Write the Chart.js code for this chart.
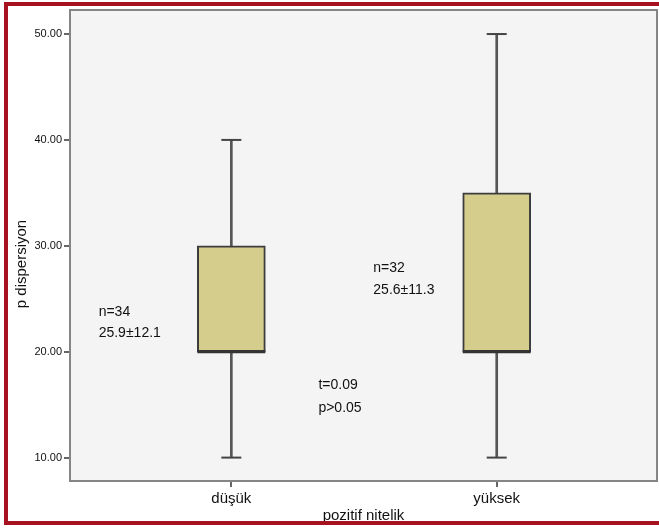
<!DOCTYPE html>
<html>
<head>
<meta charset="utf-8">
<script src="https://cdn.jsdelivr.net/npm/chart.js@4.4.1/dist/chart.umd.min.js"></script>
<style>
  body { margin: 0; background: #fff; }
  #wrap { position: relative; width: 659px; height: 529px; }
  #frame { position: absolute; left: 4px; top: 2px; width: 700px; height: 523px;
           border: 4px solid #a6121f; border-right: none; box-sizing: border-box; pointer-events: none; }
</style>
</head>
<body>
<div id="wrap">
  <canvas id="boxChart" width="659" height="529"></canvas>
  <div id="frame"></div>
</div>
<script>
// Box plot values per group
const categories = ['düşük', 'yüksek'];
const minVals = [10, 10];
const q1Vals = [20, 20];
const medianVals = [20, 20];
const q3Vals = [30, 35];
const maxVals = [40, 50];
const yTicks = [10, 20, 30, 40, 50];

// Text notes in the plot (x in group units, y in data units)
const noteLines = [
  ['n=34', -0.50, 23.75],
  ['25.9±12.1', -0.50, 21.75],
  ['n=32', 0.535, 27.9],
  ['25.6±11.3', 0.535, 25.85],
  ['t=0.09', 0.328, 16.85],
  ['p>0.05', 0.328, 14.7]
];

const FONT = "'Liberation Sans', Arial, sans-serif";

const idx = categories.map((_, i) => i);

const plotBg = {
  id: 'plotBg',
  beforeDraw(chart) {
    const {ctx, chartArea: a} = chart;
    ctx.save();
    ctx.fillStyle = '#f4f4f4';
    ctx.fillRect(a.left, a.top, a.right - a.left, a.bottom - a.top);
    ctx.restore();
  },
  beforeDatasetsDraw(chart) {
    const {ctx, chartArea: a} = chart;
    ctx.save();
    ctx.strokeStyle = '#858585';
    ctx.lineWidth = 2;
    ctx.strokeRect(a.left, a.top, a.right - a.left, a.bottom - a.top);
    ctx.restore();
  },
  afterDraw(chart) {
    const {ctx, scales: {x, y}} = chart;
    ctx.save();
    ctx.fillStyle = '#111';
    ctx.font = '14px ' + FONT;
    ctx.textAlign = 'left';
    ctx.textBaseline = 'middle';
    noteLines.forEach(([t, vx, vy]) => {
      ctx.fillText(t, x.getPixelForValue(vx), y.getPixelForValue(vy));
    });
    // y axis title
    ctx.translate(22, 264);
    ctx.rotate(-Math.PI / 2);
    ctx.textAlign = 'center';
    ctx.font = '15px ' + FONT;
    ctx.fillText('p dispersiyon', 0, 0);
    ctx.restore();
  }
};

const data = {
  datasets: [
    {
      type: 'scatter',
      label: 'median',
      data: idx.map(i => ({x: i, y: medianVals[i]})),
      pointStyle: 'line',
      pointRadius: 34,
      pointHoverRadius: 34,
      borderColor: '#333',
      borderWidth: 3,
      order: 0
    },
    {
      type: 'scatter',
      label: 'caps',
      data: idx.flatMap(i => [{x: i, y: minVals[i]}, {x: i, y: maxVals[i]}]),
      pointStyle: 'line',
      pointRadius: 10,
      pointHoverRadius: 10,
      borderColor: '#444',
      borderWidth: 2,
      order: 1
    },
    {
      type: 'bar',
      label: 'box',
      data: idx.map(i => ({x: i, y: [q1Vals[i], q3Vals[i]]})),
      backgroundColor: '#d5cd8c',
      borderColor: '#3c3c3c',
      borderWidth: 2,
      borderSkipped: false,
      barThickness: 68,
      grouped: false,
      order: 2
    },
    {
      type: 'bar',
      label: 'whisker',
      data: idx.map(i => ({x: i, y: [minVals[i], maxVals[i]]})),
      backgroundColor: '#555',
      borderWidth: 0,
      barThickness: 2,
      grouped: false,
      order: 3
    }
  ]
};

const config = {
  type: 'bar',
  data: data,
  options: {
    responsive: false,
    animation: false,
    layout: { autoPadding: false, padding: { top: 10, right: 2, left: 0, bottom: 0 } },
    scales: {
      x: {
        type: 'linear',
        offset: false,
        min: -0.608,
        max: 1.604,
        afterBuildTicks: s => { s.ticks = idx.map(v => ({value: v})); },
        afterFit: s => { s.height = 48; },
        grid: { offset: false, drawOnChartArea: false, drawTicks: true, tickLength: 6, color: '#666', lineWidth: 2 },
        border: { display: false },
        ticks: {
          callback: v => categories[v],
          color: '#111',
          font: { family: FONT, size: 15 },
          padding: 3,
          maxRotation: 0
        },
        title: {
          display: true,
          text: 'pozitif nitelik',
          color: '#111',
          font: { family: FONT, size: 15 },
          padding: { top: 0, bottom: 4 }
        }
      },
      y: {
        type: 'linear',
        min: 7.79,
        max: 52.27,
        afterBuildTicks: s => { s.ticks = yTicks.map(v => ({value: v})); },
        afterFit: s => { s.width = 70; },
        grid: { drawOnChartArea: false, drawTicks: true, tickLength: 6, color: '#666', lineWidth: 2 },
        border: { display: false },
        ticks: {
          callback: v => Number(v).toFixed(2),
          color: '#111',
          font: { family: FONT, size: 11 },
          padding: 2
        }
      }
    },
    plugins: {
      legend: { display: false },
      tooltip: { enabled: false }
    }
  },
  plugins: [plotBg]
};

const ctx = document.getElementById('boxChart').getContext('2d');
const boxChart = new Chart(ctx, config);
</script>
</body>
</html>
